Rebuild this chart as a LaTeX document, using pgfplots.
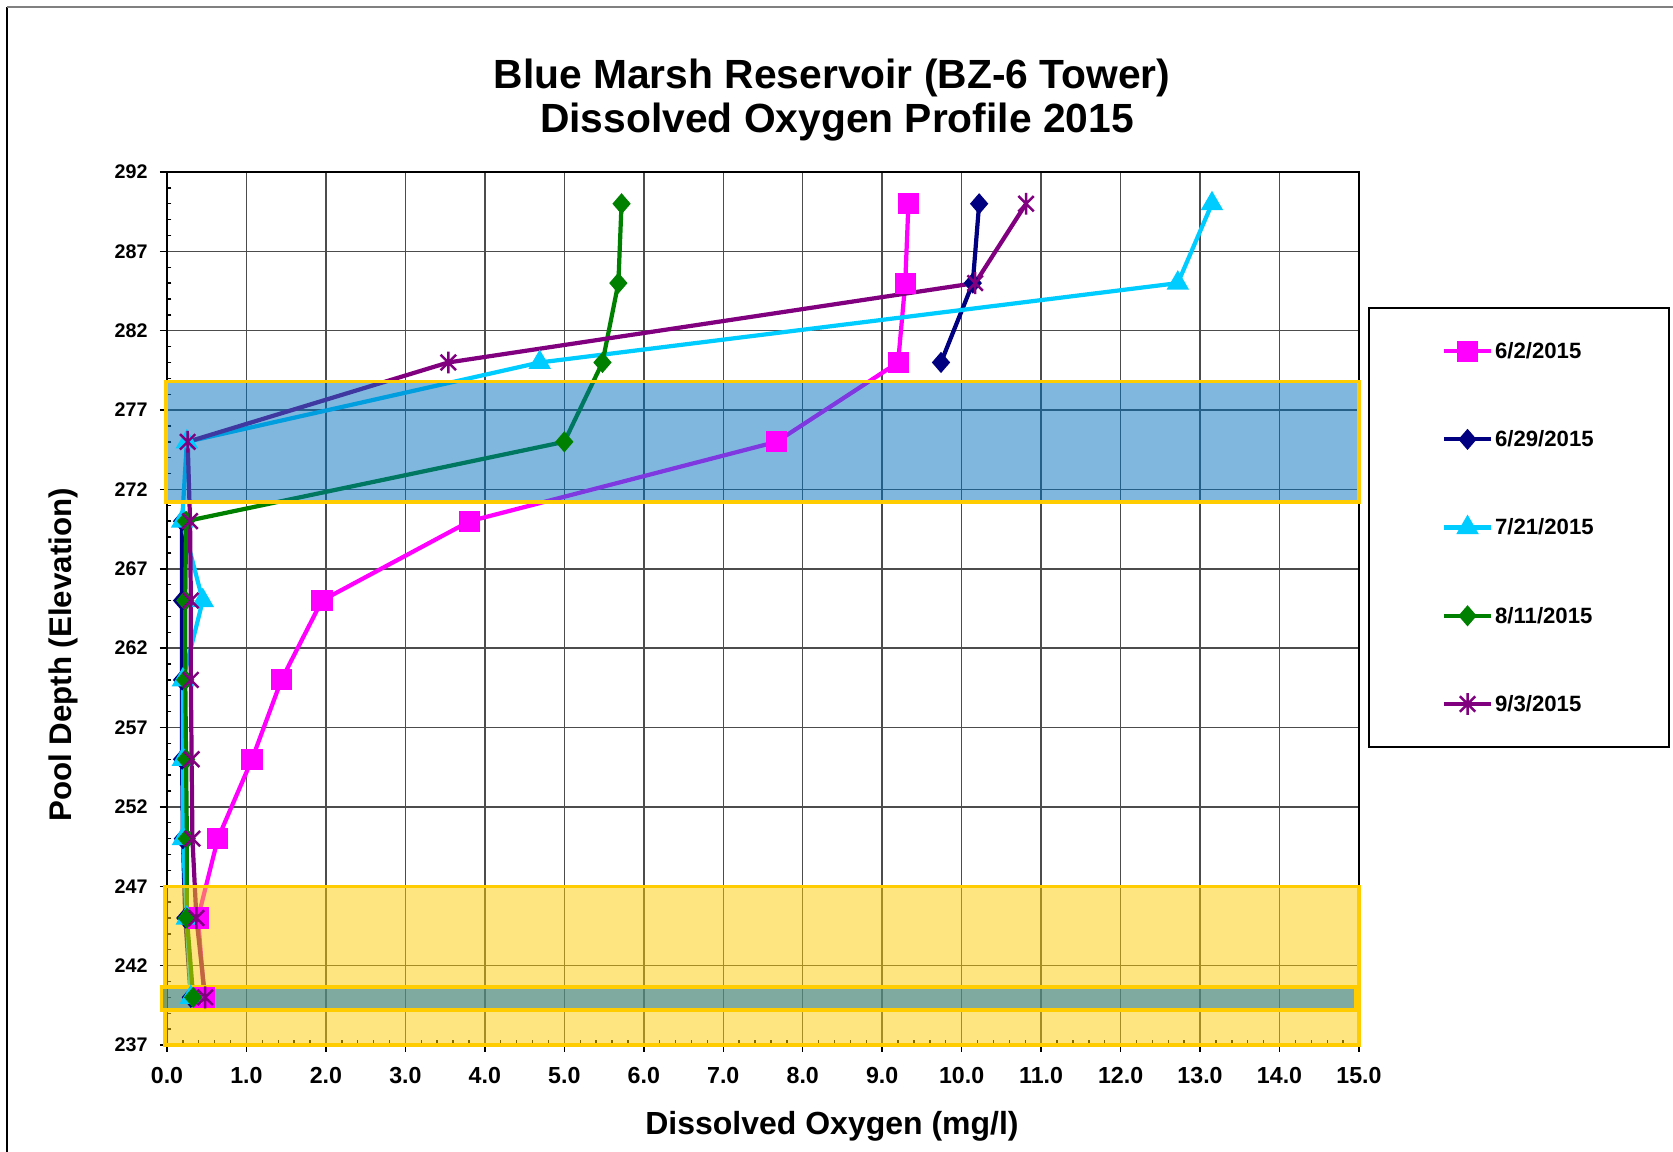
\documentclass[border=0pt]{standalone}
\usepackage{pgfplots}
\pgfplotsset{compat=1.18}
\usepackage{fontspec}
\setmainfont{Liberation Sans}
\definecolor{cMag}{HTML}{FF00FF}
\definecolor{cNavy}{HTML}{000080}
\definecolor{cCyan}{HTML}{00CCFF}
\definecolor{cGreen}{HTML}{008000}
\definecolor{cPurple}{HTML}{800080}
\definecolor{gold}{HTML}{FFCC00}
\definecolor{bandblue}{HTML}{0070C0}
\pgfdeclareplotmark{xstar}{%
  \pgfpathmoveto{\pgfqpoint{-.7071\pgfplotmarksize}{-.7071\pgfplotmarksize}}%
  \pgfpathlineto{\pgfqpoint{.7071\pgfplotmarksize}{.7071\pgfplotmarksize}}%
  \pgfpathmoveto{\pgfqpoint{-.7071\pgfplotmarksize}{.7071\pgfplotmarksize}}%
  \pgfpathlineto{\pgfqpoint{.7071\pgfplotmarksize}{-.7071\pgfplotmarksize}}%
  \pgfpathmoveto{\pgfqpoint{0pt}{-\pgfplotmarksize}}%
  \pgfpathlineto{\pgfqpoint{0pt}{\pgfplotmarksize}}%
  \pgfusepathqstroke}
\begin{document}
\begin{tikzpicture}
\useasboundingbox (0,0) rectangle (16.73cm,11.52cm);
\draw[black, line width=0.2mm] (0.07cm,0) -- (0.07cm,11.45cm);
\draw[gray, line width=0.25mm] (0.07cm,11.45cm) -- (16.73cm,11.45cm);
\node[anchor=base, font=\bfseries\fontsize{11.6}{13}\selectfont] at (8.32cm,10.637cm) {Blue Marsh Reservoir (BZ-6 Tower)};
\node[anchor=base, font=\bfseries\fontsize{11.6}{13}\selectfont] at (8.37cm,10.19cm) {Dissolved Oxygen Profile 2015};
\node[anchor=base, rotate=90, font=\bfseries\fontsize{8.9}{11}\selectfont] at (0.72cm,4.97cm) {Pool Depth (Elevation)};
\node[anchor=base, font=\bfseries\fontsize{9.1}{11}\selectfont] at (8.32cm,0.17cm) {Dissolved Oxygen (mg/l)};
\begin{axis}[
  at={(1.67cm,1.07cm)}, anchor=south west,
  scale only axis, width=11.92cm, height=8.73cm,
  xmin=0, xmax=15, ymin=237, ymax=292,
  xtick={0,1,...,15}, ytick={237,242,...,292},
  minor x tick num=4, minor y tick num=4,
  tick pos=left, tick align=outside,
  major tick length=0.7mm, minor tick length=-0.45mm,
  tick style={black, line width=0.4pt},
  major grid style={black!70, line width=0.4pt},
  xmajorgrids, ymajorgrids,
  axis line style={black, line width=0.85pt},
  clip=false,
  unbounded coords=jump,
  /pgf/number format/assume math mode=true,
  xticklabel style={font=\bfseries\fontsize{6.6}{7}\selectfont, yshift=-0.3mm, /pgf/number format/.cd, fixed, fixed zerofill, precision=1},
  yticklabel style={font=\bfseries\fontsize{5.6}{7}\selectfont, /pgf/number format/.cd, fixed, precision=0},
  legend style={at={(1.0076,0.845)}, anchor=north west, draw=black, line width=0.5pt, fill=white,
    inner xsep=7.3mm, inner ysep=3.14mm, row sep=6.5mm,
    font=\bfseries\fontsize{6.3}{7}\selectfont,
    nodes={inner xsep=0.2mm, inner ysep=0pt, text height=5.4pt, text depth=1.2pt}},
  legend cell align=left,
  legend image code/.code={\draw[mark repeat=2,mark phase=2,#1] plot coordinates {(0cm,0cm) (0.235cm,0cm) (0.47cm,0cm)};},
]
\addplot[cMag, line width=1.2pt, mark=square*, mark size=2.4pt, mark options={solid, fill=cMag}] coordinates {
(9.33,290) (9.29,285) (9.20,280) (7.67,275) (3.81,270) (1.95,265) (1.44,260) (1.07,255) (0.64,250) (0.39,245) (0.47,240)};
\addlegendentry{6/2/2015}
\addplot[cNavy, line width=1.2pt, mark=diamond*, mark size=2.1pt, mark options={solid, fill=cNavy, xscale=1.15}] coordinates {
(10.22,290) (10.14,285) (9.74,280) (nan,275) (0.19,270) (0.19,265) (0.19,260) (0.19,255) (0.20,250) (0.23,245) (0.30,240)};
\addlegendentry{6/29/2015}
\addplot[cCyan, line width=1.2pt, mark=triangle*, mark size=2.5pt, mark options={solid, fill=cCyan}] coordinates {
(13.15,290) (12.72,285) (4.69,280) (0.25,275) (0.19,270) (0.45,265) (0.20,260) (0.20,255) (0.20,250) (0.25,245) (0.30,240)};
\addlegendentry{7/21/2015}
\addplot[cGreen, line width=1.2pt, mark=diamond*, mark size=2.1pt, mark options={solid, fill=cGreen, xscale=1.15}] coordinates {
(5.72,290) (5.68,285) (5.48,280) (5.00,275) (0.24,270) (0.23,265) (0.23,260) (0.24,255) (0.25,250) (0.25,245) (0.33,240)};
\addlegendentry{8/11/2015}
\addplot[cPurple, line width=1.2pt, mark=xstar, mark size=3.1pt, mark options={solid, line width=0.7pt}] coordinates {
(10.81,290) (10.17,285) (3.54,280) (0.26,275) (0.29,270) (0.30,265) (0.30,260) (0.31,255) (0.32,250) (0.37,245) (0.48,240)};
\addlegendentry{9/3/2015}
% highlighted bands
\addplot[forget plot, draw=gold, line width=1pt, fill=bandblue, fill opacity=0.5] coordinates {(-0.01,271.2) (15,271.2) (15,278.8) (-0.01,278.8)} --cycle;
\addplot[forget plot, draw=gold, line width=1pt, fill=gold, fill opacity=0.5] coordinates {(-0.025,237) (15,237) (15,247) (-0.025,247)} --cycle;
\addplot[forget plot, draw=gold, line width=1pt, fill=bandblue, fill opacity=0.5] coordinates {(-0.07,239.2) (14.96,239.2) (14.96,240.65) (-0.07,240.65)} --cycle;
\end{axis}
\end{tikzpicture}
\end{document}
